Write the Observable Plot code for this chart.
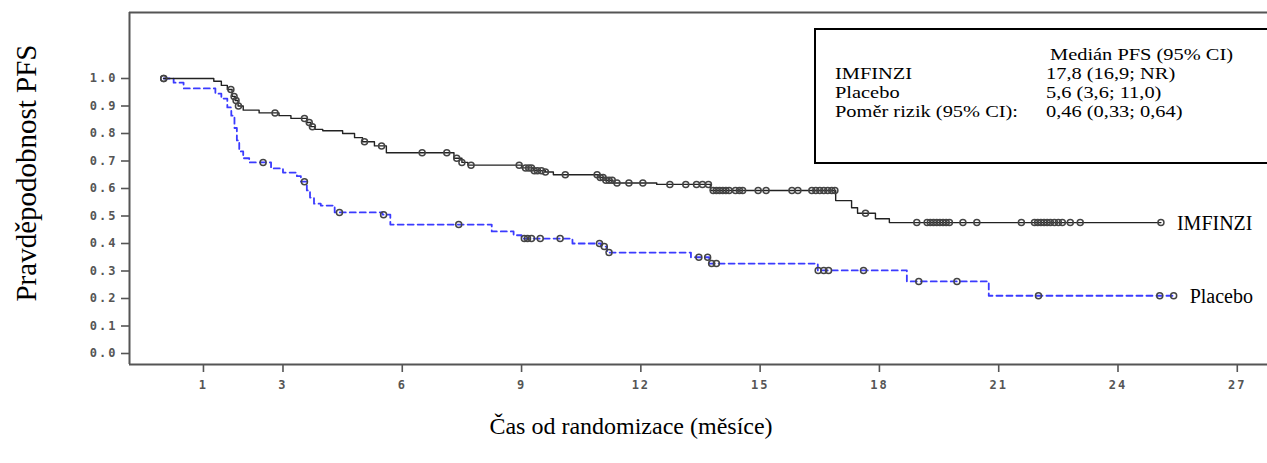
<!DOCTYPE html>
<html>
<head>
<meta charset="utf-8">
<script src="https://cdn.jsdelivr.net/npm/d3@7"></script>
<script src="https://cdn.jsdelivr.net/npm/@observablehq/plot@0.6"></script>
<style>
  html, body { margin: 0; padding: 0; background: #fff; overflow: hidden; }
  #wrap { position: relative; width: 1267px; height: 463px; overflow: hidden; }
  #wrap svg { position: absolute; left: 0; top: 0; }
  [aria-label="x-axis tick label"] text, [aria-label="y-axis tick label"] text { letter-spacing: 2px; }
  .serif { font-family: "Liberation Serif", "Times New Roman", serif; color: #000; position: absolute; white-space: nowrap; }
  #legend { position: absolute; left: 814px; top: 28px; width: 470px; height: 132px; border: 2px solid #000; box-sizing: content-box; }
  .lg { position: absolute; font-size: 17px; line-height: 19px; transform: scaleX(1.2); transform-origin: 0 50%; }
</style>
</head>
<body>
<div id="wrap"></div>
<script>
// ---- Data ----
const seriesNames = ["IMFINZI", "Placebo"];

// IMFINZI: step times (months) and survival after each step
const imfTimes = [0, 1.26, 1.45, 1.6, 1.72, 1.8, 1.87, 2.0, 2.4, 2.9, 3.2, 3.6, 3.7, 3.8, 4.0, 4.5, 4.8, 5.0, 5.3, 5.6, 7.3, 7.5, 7.65, 9.0, 9.3, 9.6, 9.8, 10.95, 11.1, 11.3, 12.4, 13.75, 16.9, 17.3, 17.45, 17.9, 18.25];
const imfSurv  = [1.0, 0.99, 0.975, 0.96, 0.935, 0.92, 0.90, 0.885, 0.875, 0.865, 0.855, 0.84, 0.825, 0.815, 0.81, 0.80, 0.785, 0.77, 0.755, 0.73, 0.71, 0.695, 0.685, 0.675, 0.665, 0.66, 0.65, 0.64, 0.63, 0.62, 0.615, 0.593, 0.556, 0.53, 0.51, 0.49, 0.476];
const imfCensor = [0, 1.69, 1.77, 1.82, 1.88, 2.8, 3.54, 3.66, 3.74, 5.05, 5.48, 6.5, 7.12, 7.37, 7.5, 7.73, 8.94, 9.1, 9.18, 9.25, 9.32, 9.4, 9.5, 9.6, 10.1, 10.9, 10.98, 11.05, 11.12, 11.2, 11.28, 11.4, 11.7, 12.05, 12.73, 13.13, 13.4, 13.55, 13.7, 13.82, 13.9, 13.98, 14.06, 14.14, 14.22, 14.38, 14.48, 14.56, 14.95, 15.15, 15.8, 15.95, 16.3, 16.4, 16.5, 16.6, 16.7, 16.8, 16.88, 17.65, 18.94, 19.2, 19.28, 19.36, 19.44, 19.52, 19.6, 19.68, 19.76, 20.1, 20.45, 21.57, 21.9, 21.98, 22.06, 22.14, 22.22, 22.3, 22.4, 22.5, 22.6, 22.8, 23.05, 25.08];

// Placebo
const plcTimes = [0, 0.25, 0.5, 1.3, 1.45, 1.6, 1.7, 1.78, 1.84, 1.9, 2.0, 2.15, 2.7, 3.0, 3.35, 3.45, 3.6, 3.68, 3.78, 3.95, 4.3, 5.5, 5.7, 8.25, 8.8, 9.0, 10.28, 11.0, 11.15, 13.26, 13.72, 16.45, 18.69, 20.75];
const plcSurv  = [1.0, 0.985, 0.964, 0.945, 0.927, 0.895, 0.865, 0.82, 0.775, 0.735, 0.71, 0.695, 0.673, 0.658, 0.645, 0.625, 0.593, 0.567, 0.545, 0.538, 0.513, 0.505, 0.469, 0.444, 0.43, 0.418, 0.40, 0.389, 0.367, 0.35, 0.327, 0.302, 0.262, 0.21];
const plcCensor = [0, 2.5, 3.54, 4.42, 5.53, 7.42, 9.07, 9.15, 9.25, 9.47, 9.97, 10.96, 11.08, 11.2, 13.46, 13.68, 13.78, 13.9, 16.46, 16.6, 16.72, 17.6, 18.99, 19.95, 22.0, 25.05, 25.4];

// Axes
const xTicks = [1, 3, 6, 9, 12, 15, 18, 21, 24, 27];
const yTicks = [0, 0.1, 0.2, 0.3, 0.4, 0.5, 0.6, 0.7, 0.8, 0.9, 1.0];
const xDomain = [-0.86, 27.76];
const yDomain = [-0.04, 1.24];
const xTitle = "Čas od randomizace (měsíce)";
const yTitle = "Pravděpodobnost PFS";

// Legend box
const legendHeader = "Medián PFS (95% CI)";
const legendRows = ["IMFINZI", "Placebo", "Poměr rizik (95% CI):"];
const legendValues = ["17,8 (16,9; NR)", "5,6 (3,6; 11,0)", "0,46 (0,33; 0,64)"];

// ---- Build tables ----
function survAt(times, surv, t) {
  let s = surv[0];
  for (let i = 0; i < times.length; i++) if (times[i] <= t) s = surv[i];
  return s;
}
function steps(name, times, surv, censor) {
  const rows = times.map((t, i) => ({series: name, t, s: surv[i]}));
  const tEnd = d3.max(censor);
  rows.push({series: name, t: tEnd, s: survAt(times, surv, tEnd)});
  return rows;
}
function marks(name, times, surv, censor) {
  return censor.map(t => ({series: name, t, s: survAt(times, surv, t)}));
}
const imfLine = steps(seriesNames[0], imfTimes, imfSurv, imfCensor);
const plcLine = steps(seriesNames[1], plcTimes, plcSurv, plcCensor);
const imfMarks = marks(seriesNames[0], imfTimes, imfSurv, imfCensor);
const plcMarks = marks(seriesNames[1], plcTimes, plcSurv, plcCensor);
const endLabels = [imfLine[imfLine.length - 1], plcLine[plcLine.length - 1]];

const tickFont = {fontFamily: "DejaVu Sans Mono", fontWeight: "bold", fontSize: 12};

const chart = Plot.plot({
  width: 1267,
  height: 463,
  marginLeft: 129,
  marginRight: 0,
  marginTop: 12,
  marginBottom: 99,
  x: {domain: xDomain},
  y: {domain: yDomain},
  style: {background: "white", overflow: "visible"},
  marks: [
    Plot.ruleY([yDomain[1]], {stroke: "#555", strokeWidth: 2}),
    Plot.ruleY([yDomain[0]], {stroke: "#555", strokeWidth: 2}),
    Plot.ruleX([xDomain[0]], {stroke: "#555", strokeWidth: 2}),
    Plot.axisX({ticks: xTicks, tickSize: 8, tickPadding: 8, tickFormat: d => String(d), label: null, stroke: "#555", strokeWidth: 1.6, fill: "#555", ...tickFont}),
    Plot.axisY({ticks: yTicks, tickSize: 8, tickPadding: 4, tickFormat: d3.format(".1f"), label: null, stroke: "#555", strokeWidth: 1.6, fill: "#555", ...tickFont}),
    Plot.line(plcLine, {x: "t", y: "s", curve: "step-after", stroke: "#3b3bff", strokeWidth: 1.8, strokeDasharray: "6,4"}),
    Plot.line(imfLine, {x: "t", y: "s", curve: "step-after", stroke: "#222", strokeWidth: 1.4}),
    Plot.dot(plcMarks, {x: "t", y: "s", r: 3, stroke: "#444", strokeWidth: 1.5, fill: "none"}),
    Plot.dot(imfMarks, {x: "t", y: "s", r: 3, stroke: "#444", strokeWidth: 1.5, fill: "none"}),
    Plot.text(endLabels, {x: "t", y: "s", text: "series", textAnchor: "start", dx: 16, dy: 1, fontFamily: "Liberation Serif", fontSize: 20, fill: "#000"})
  ]
});
const wrap = document.getElementById("wrap");
wrap.appendChild(chart);

// Axis titles
const xl = document.createElement("div");
xl.className = "serif";
xl.style.fontSize = "24px";
xl.style.left = "631px";
xl.style.top = "413px";
xl.style.transform = "translateX(-50%)";
xl.textContent = xTitle;
wrap.appendChild(xl);

const yl = document.createElement("div");
yl.className = "serif";
yl.style.fontSize = "29px";
yl.style.lineHeight = "30px";
yl.style.left = "26px";
yl.style.top = "173px";
yl.style.transform = "translate(-50%, -50%) rotate(-90deg)";
yl.textContent = yTitle;
wrap.appendChild(yl);

// Legend box
const lg = document.createElement("div");
lg.id = "legend";
wrap.appendChild(lg);
function addText(txt, left, top) {
  const d = document.createElement("div");
  d.className = "serif lg";
  d.style.left = left + "px";
  d.style.top = top + "px";
  d.textContent = txt;
  wrap.appendChild(d);
}
addText(legendHeader, 1050, 45);
legendRows.forEach((r, i) => addText(r, 835, 64 + 19 * i));
legendValues.forEach((v, i) => addText(v, 1046, 64 + 19 * i));
</script>
</body>
</html>
